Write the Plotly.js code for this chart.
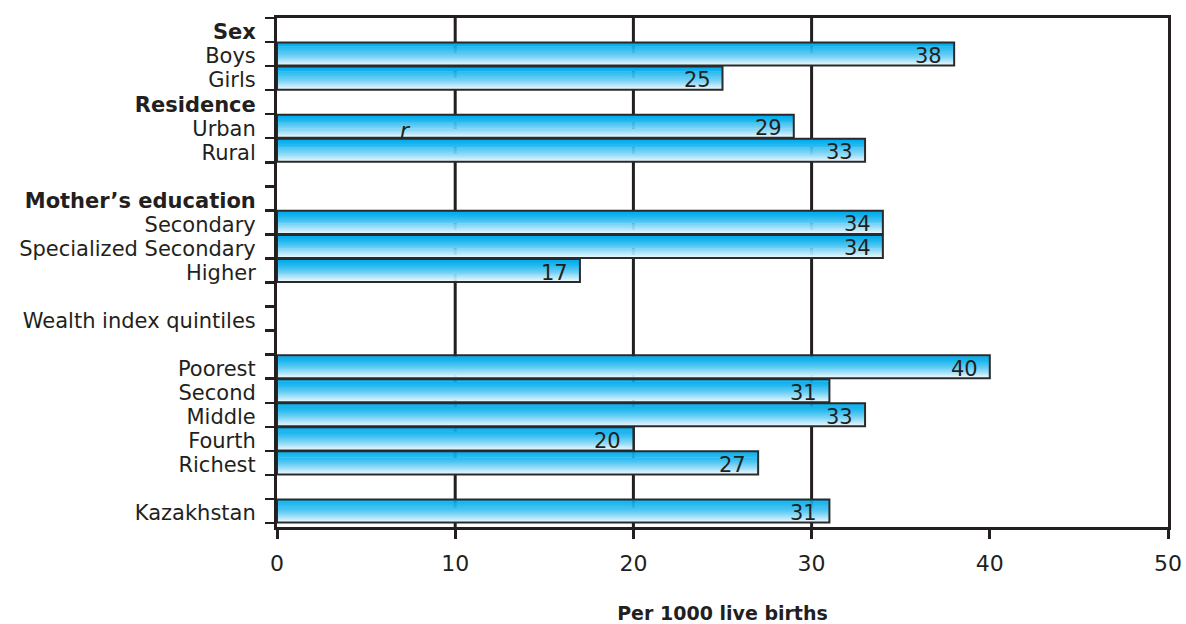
<!DOCTYPE html>
<html>
<head>
<meta charset="utf-8">
<script src="https://cdn.plot.ly/plotly-3.0.1.min.js"></script>
<style>html,body{margin:0;padding:0;background:#fff;}#chart{width:1186px;height:624px;}</style>
</head>
<body>
<div id="chart"></div>
<script>
// ---- data ----
const categories = ['Sex','Boys','Girls','Residence','Urban','Rural','gap1',
  'Mother’s education','Secondary','Specialized Secondary','Higher','gap2',
  'Wealth index quintiles','gap3','Poorest','Second','Middle','Fourth','Richest','gap4','Kazakhstan'];
const tickLabels = ['<b>Sex</b>','Boys','Girls','<b>Residence</b>','Urban','Rural','',
  '<b>Mother’s education</b>','Secondary','Specialized Secondary','Higher','',
  'Wealth index quintiles','','Poorest','Second','Middle','Fourth','Richest','','Kazakhstan'];
const values = [null,38,25,null,29,33,null,null,34,34,17,null,null,null,40,31,33,20,27,null,31];
const xTicks = [0,10,20,30,40,50];
const gridValues = [10,20,30];

// ---- style ----
const ink = '#231f20';
const fam = 'DejaVu Sans, Liberation Sans, Arial, sans-serif';
const barWidth = 0.96;
const nStrips = 24;
const colTop = [0,172,236], colBottom = [240,249,254];

const traces = [];
for (let i = 0; i < nStrips; i++) {
  const t = i / (nStrips - 1);
  const e = Math.pow(t, 1.4);
  const c = colTop.map((v, k) => Math.round(v + (colBottom[k] - v) * e));
  traces.push({
    type: 'bar', orientation: 'h', x: values, y: categories,
    width: barWidth / nStrips + (i < nStrips - 1 ? 0.02 : 0),
    offset: -barWidth / 2 + i * barWidth / nStrips,
    marker: {color: `rgb(${c[0]},${c[1]},${c[2]})`, line: {width: 0}},
    hoverinfo: 'skip', showlegend: false, cliponaxis: true
  });
}
traces.push({
  type: 'bar', orientation: 'h', x: values, y: categories,
  width: barWidth, offset: -barWidth / 2,
  marker: {color: 'rgba(0,0,0,0)', line: {width: 2, color: '#2a2a2a'}},
  showlegend: false
});

const annotations = [];
values.forEach((v, i) => {
  if (v === null) return;
  annotations.push({
    x: v, y: categories[i], xref: 'x', yref: 'y', text: String(v),
    showarrow: false, xanchor: 'right', xshift: -10, yshift: -2,
    font: {family: fam, size: 21, color: ink}
  });
});
annotations.push({
  x: 7.2, y: 'Urban', xref: 'x', yref: 'y', text: '<i>r</i>', showarrow: false,
  yshift: -4,
  font: {family: fam, size: 22, color: ink}
});

const shapes = gridValues.map(g => ({
  type: 'line', xref: 'x', yref: 'paper', x0: g, x1: g, y0: 0, y1: 1,
  line: {color: ink, width: 3}, layer: 'below'
}));

const layout = {
  width: 1186, height: 624,
  margin: {l: 277, r: 18, t: 18, b: 97},
  paper_bgcolor: '#fff', plot_bgcolor: '#fff',
  barmode: 'overlay',
  font: {family: fam, color: ink, size: 21},
  xaxis: {
    range: [0, 50], tickvals: xTicks, ticktext: xTicks.map(String),
    showgrid: false, zeroline: false,
    showline: true, mirror: true, linecolor: ink, linewidth: 3,
    ticks: 'outside', ticklen: 9, tickwidth: 3, tickcolor: ink,
    tickfont: {size: 22}, ticklabelstandoff: 6,
    title: {text: '<b>Per 1000 live births</b>', font: {size: 19}, standoff: 36},
    fixedrange: true, automargin: false
  },
  yaxis: {
    type: 'category', categoryorder: 'array', categoryarray: categories,
    autorange: 'reversed', range: [categories.length - 0.5, -0.5],
    tickvals: categories, ticktext: tickLabels, tickson: 'boundaries',
    showgrid: false, zeroline: false,
    showline: true, mirror: true, linecolor: ink, linewidth: 3,
    ticks: 'outside', ticklen: 9, tickwidth: 2.5, tickcolor: ink,
    tickfont: {size: 21}, ticklabelstandoff: 14, ticklabelshift: -2,
    fixedrange: true, automargin: false
  },
  shapes: shapes,
  annotations: annotations
};

Plotly.newPlot('chart', traces, layout, {displayModeBar: false, staticPlot: true});
</script>
</body>
</html>
